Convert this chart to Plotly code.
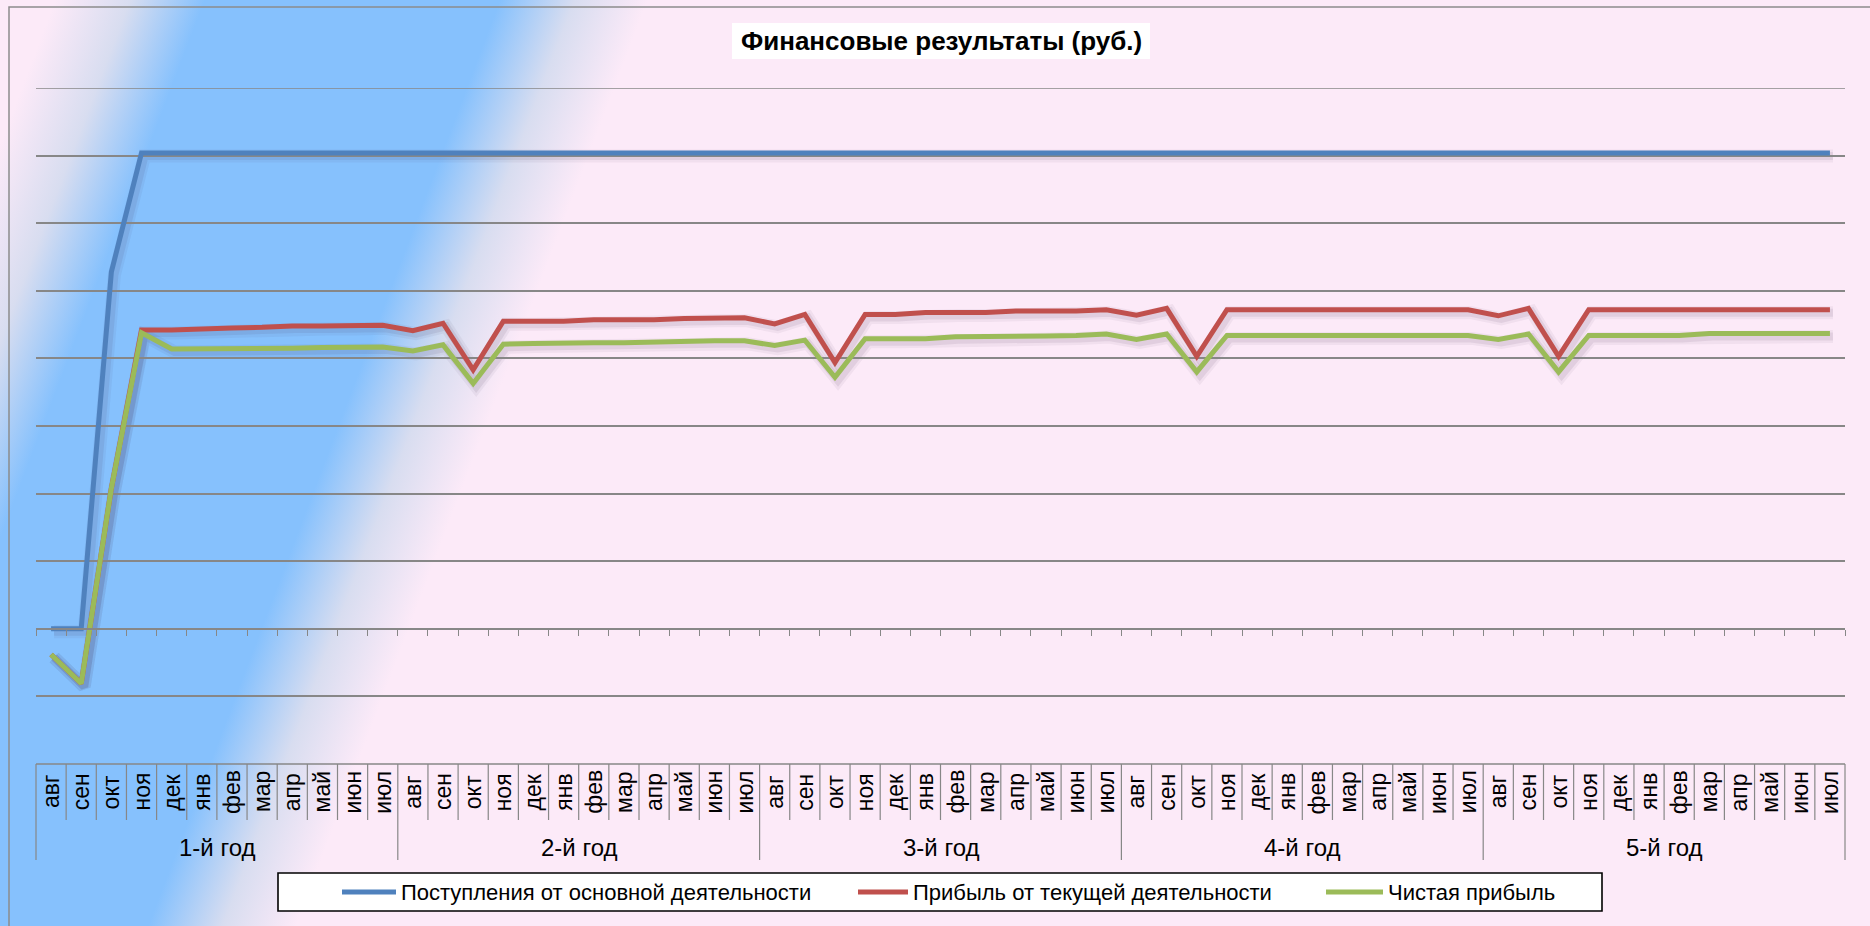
import base64
import plotly.graph_objects as go

# ---------------- data ----------------
months = ["авг", "сен", "окт", "ноя", "дек", "янв", "фев", "мар", "апр", "май", "июн", "июл"]
years = ["1-й год", "2-й год", "3-й год", "4-й год", "5-й год"]
series_names = ["Поступления от основной деятельности",
                "Прибыль от текущей деятельности",
                "Чистая прибыль"]

revenue = [0.0, 0.0, 5.28, 7.04, 7.04, 7.04, 7.04, 7.04, 7.04, 7.04, 7.04, 7.04,
           7.04, 7.04, 7.04, 7.04, 7.04, 7.04, 7.04, 7.04, 7.04, 7.04, 7.04, 7.04,
           7.04, 7.04, 7.04, 7.04, 7.04, 7.04, 7.04, 7.04, 7.04, 7.04, 7.04, 7.04,
           7.04, 7.04, 7.04, 7.04, 7.04, 7.04, 7.04, 7.04, 7.04, 7.04, 7.04, 7.04,
           7.04, 7.04, 7.04, 7.04, 7.04, 7.04, 7.04, 7.04, 7.04, 7.04, 7.04, 7.04]

op_profit = [-0.38, -0.81, 2.08, 4.42, 4.42, 4.44, 4.45, 4.46, 4.48, 4.48, 4.48, 4.49,
             4.41, 4.52, 3.83, 4.55, 4.55, 4.55, 4.57, 4.57, 4.57, 4.59, 4.60, 4.60,
             4.51, 4.65, 3.94, 4.65, 4.65, 4.68, 4.68, 4.68, 4.70, 4.70, 4.70, 4.72,
             4.64, 4.74, 4.03, 4.72, 4.72, 4.72, 4.72, 4.72, 4.72, 4.72, 4.72, 4.72,
             4.63, 4.74, 4.03, 4.72, 4.72, 4.72, 4.72, 4.72, 4.72, 4.72, 4.72, 4.72]

net_profit = [-0.38, -0.81, 2.08, 4.38, 4.14, 4.14, 4.14, 4.14, 4.15, 4.16, 4.17, 4.17,
              4.11, 4.20, 3.63, 4.21, 4.22, 4.23, 4.23, 4.23, 4.24, 4.26, 4.26, 4.26,
              4.19, 4.27, 3.72, 4.29, 4.29, 4.29, 4.32, 4.32, 4.32, 4.33, 4.34, 4.36,
              4.28, 4.36, 3.80, 4.34, 4.34, 4.34, 4.34, 4.34, 4.34, 4.34, 4.34, 4.34,
              4.28, 4.36, 3.80, 4.34, 4.34, 4.34, 4.34, 4.37, 4.37, 4.37, 4.37, 4.37]

series_values = [revenue, op_profit, net_profit]
colors = ["#4F81BD", "#C0504D", "#9BBB59"]

title_text = "Финансовые результаты (руб.)"
y_min, y_max, y_step = -2, 8, 1

categories = [f"{y} {m}" for y in years for m in months]
n_cat = len(categories)

# ---------------- geometry ----------------
W, H = 1870, 926
ML, MR, MT, MB = 36, 22, 88, 159
PW, PH = W - ML - MR, H - MT - MB
SX, SY = 3.0 / PW, 3.0 / PH          # shadow offset (px -> paper)


def xp(X):
    return (X - ML) / PW


def yp(Y):
    return (H - MB - Y) / PH


FONT = "Arial, Liberation Sans, sans-serif"
GRID = "#878787"

fig = go.Figure()

# shadows (soft, offset down-right) on the helper subplot
for vals in series_values:
    for w, a in [(13, 0.06), (8, 0.09)]:
        fig.add_trace(go.Scatter(x=categories, y=vals, mode="lines",
                                 line=dict(color=f"rgba(70,45,80,{a})", width=w),
                                 xaxis="x", yaxis="y", hoverinfo="skip",
                                 showlegend=False))

# main lines
for name, vals, col in zip(series_names, series_values, colors):
    fig.add_trace(go.Scatter(x=categories, y=vals, mode="lines", name=name,
                             line=dict(color=col, width=5),
                             xaxis="x2", yaxis="y2", showlegend=False))

zero_pos = SY + (0 - y_min) / (y_max - y_min) * (1 - SY)

fig.update_layout(
    width=W, height=H,
    margin=dict(l=ML, r=MR, t=MT, b=MB, pad=0),
    paper_bgcolor="#FCEAF8",
    plot_bgcolor="rgba(0,0,0,0)",
    font=dict(family=FONT, color="#000000"),
    xaxis=dict(domain=[SX, 1], range=[-0.5, n_cat - 0.5], visible=False,
               type="category", anchor="y"),
    yaxis=dict(domain=[0, 1 - SY], range=[y_min, y_max], visible=False, anchor="x"),
    xaxis2=dict(domain=[0, 1 - SX], range=[-0.5, n_cat - 0.5], type="category",
                anchor="free", position=zero_pos,
                showline=True, linecolor=GRID, linewidth=1.5,
                ticks="outside", ticklen=6, tickwidth=1.2, tickcolor=GRID,
                tickson="boundaries", showticklabels=False, showgrid=False,
                zeroline=False),
    yaxis2=dict(domain=[SY, 1], range=[y_min, y_max], dtick=y_step, tick0=0,
                anchor="free", position=0,
                showgrid=True, gridcolor=GRID, gridwidth=1.5,
                showticklabels=False, zeroline=False, showline=False, ticks=""),
    hovermode=False,
)

# ---- background gradient (diagonal blue band) ----
SLOPE = 0.38
S = 720.0
k = S / (1 + SLOPE ** 2)
stops = [(0.0, "#FCEAF8"), (55, "#FCEAF8"), (130, "#D8DDF0"), (205, "#86C1FD"),
         (500, "#86C1FD"), (575, "#D8DDF0"), (648, "#FCEAF8"), (720, "#FCEAF8")]
stop_xml = "".join(f'<stop offset="{s / S:.4f}" stop-color="{c}"/>' for s, c in stops)
svg = (f'<svg xmlns="http://www.w3.org/2000/svg" width="{W}" height="{H}" '
       f'viewBox="0 0 {W} {H}"><defs><linearGradient id="g" gradientUnits="userSpaceOnUse" '
       f'x1="0" y1="0" x2="{k:.1f}" y2="{SLOPE * k:.1f}">{stop_xml}</linearGradient></defs>'
       f'<rect width="{W}" height="{H}" fill="url(#g)"/></svg>')
src = "data:image/svg+xml;base64," + base64.b64encode(svg.encode("utf-8")).decode()
fig.add_layout_image(dict(source=src, xref="paper", yref="paper",
                          x=xp(0), y=yp(0), sizex=W / PW, sizey=H / PH,
                          xanchor="left", yanchor="top", sizing="stretch",
                          layer="below", opacity=1))

shapes = []
annotations = []

# top gridline (range edge)
shapes.append(dict(type="line", xref="paper", yref="y2",
                   x0=0, x1=1 - SX, y0=y_max, y1=y_max,
                   line=dict(color=GRID, width=1.5)))

# chart border
shapes.append(dict(type="rect", xref="paper", yref="paper",
                   x0=xp(9), y0=yp(7), x1=xp(W + 20), y1=yp(H + 20),
                   line=dict(color="#8C8C8C", width=1.5), fillcolor="rgba(0,0,0,0)"))

# category table
dom_w = 1 - SX
top_y, month_y, year_y = 764, 820, 860
shapes.append(dict(type="line", xref="paper", yref="paper",
                   x0=0, x1=dom_w, y0=yp(top_y), y1=yp(top_y),
                   line=dict(color=GRID, width=1.5)))
for b in range(n_cat + 1):
    xb = b / n_cat * dom_w
    bottom = year_y if b % len(months) == 0 else month_y
    shapes.append(dict(type="line", xref="paper", yref="paper",
                       x0=xb, x1=xb, y0=yp(top_y), y1=yp(bottom),
                       line=dict(color=GRID, width=1.2)))

for i, cat in enumerate(categories):
    annotations.append(dict(x=i, xref="x2", y=yp(792), yref="paper",
                            text=months[i % len(months)], textangle=-90,
                            showarrow=False, xanchor="center", yanchor="middle",
                            font=dict(size=23, family=FONT, color="#000000")))
for g, yl in enumerate(years):
    annotations.append(dict(x=g * len(months) + (len(months) - 1) / 2, xref="x2",
                            y=yp(847), yref="paper", text=yl, showarrow=False,
                            xanchor="center", yanchor="middle",
                            font=dict(size=24, family=FONT, color="#000000")))

# title
shapes.append(dict(type="rect", xref="paper", yref="paper",
                   x0=xp(732), x1=xp(1150), y0=yp(23), y1=yp(59),
                   line=dict(width=0), fillcolor="#FFFFFF"))
annotations.append(dict(x=xp(941), y=yp(41), xref="paper", yref="paper",
                        text=f"<b>{title_text}</b>", showarrow=False,
                        xanchor="center", yanchor="middle",
                        font=dict(size=26, family=FONT, color="#000000")))

# legend (drawn)
shapes.append(dict(type="rect", xref="paper", yref="paper",
                   x0=xp(278), x1=xp(1602), y0=yp(873), y1=yp(911),
                   line=dict(color="#000000", width=1.6), fillcolor="#FFFFFF"))
leg_samples = [(342, 396, 399), (858, 908, 911), (1326, 1383, 1386)]
for (s0, s1, tx), name, col in zip(leg_samples, series_names, colors):
    shapes.append(dict(type="line", xref="paper", yref="paper",
                       x0=xp(s0), x1=xp(s1), y0=yp(892), y1=yp(892),
                       line=dict(color=col, width=5)))
    annotations.append(dict(x=xp(tx), y=yp(892), xref="paper", yref="paper",
                            text=name, showarrow=False, xanchor="left",
                            yanchor="middle",
                            font=dict(size=22, family=FONT, color="#000000")))

fig.update_layout(shapes=shapes, annotations=annotations)

fig.write_html("out.html", config={"displayModeBar": False},
               post_script="document.body.style.margin='0';document.body.style.overflow='hidden';")
